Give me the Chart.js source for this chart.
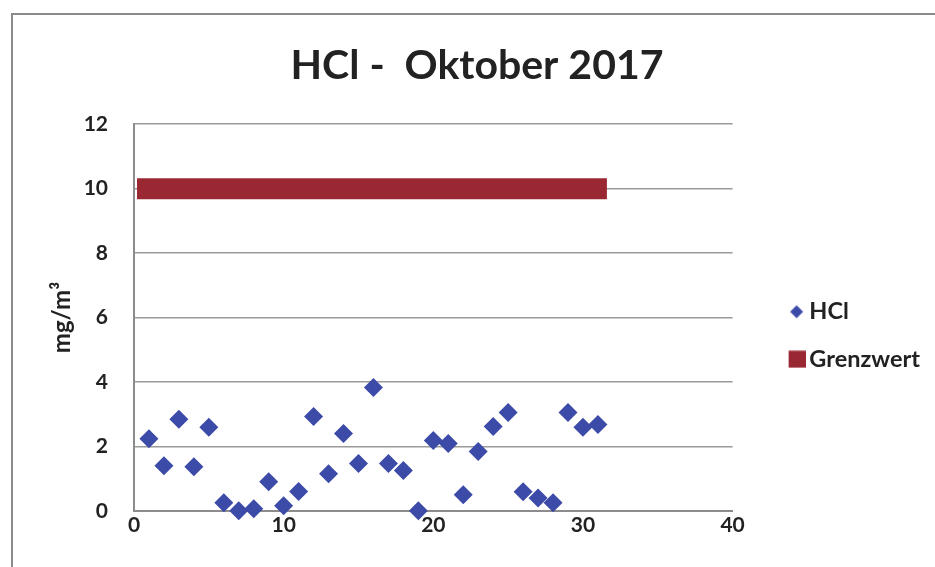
<!DOCTYPE html>
<html>
<head>
<meta charset="utf-8">
<script src="https://cdn.jsdelivr.net/npm/chart.js@4/dist/chart.umd.min.js"></script>
<style>
  html, body { margin: 0; padding: 0; background: #fff; }
  #wrap { width: 935px; height: 567px; }
</style>
</head>
<body>
<div id="wrap"><canvas id="chartHcl" width="935" height="567"></canvas></div>
<script>
var days = [1, 2, 3, 4, 5, 6, 7, 8, 9, 10, 11, 12, 13, 14, 15, 16,
            17, 18, 19, 20, 21, 22, 23, 24, 25, 26, 27, 28, 29, 30, 31];
var hclValues = [2.24, 1.40, 2.84, 1.37, 2.59, 0.25, 0.0, 0.06, 0.9, 0.16, 0.6,
                 2.93, 1.15, 2.4, 1.47, 3.83, 1.47, 1.25, 0.0, 2.18, 2.09, 0.5,
                 1.84, 2.62, 3.05, 0.59, 0.4, 0.25, 3.05, 2.59, 2.68];
var grenzX = [0.2, 31.6];
var grenzY = [10, 10];
var xTicks = [0, 10, 20, 30, 40];
var yTicks = [0, 2, 4, 6, 8, 10, 12];

var blue = '#3c4aa8';
var red = '#992832';
var fontFam = 'Lato, "Open Sans", sans-serif';

var hclPoints = [];
for (var i = 0; i < days.length; i++) {
    hclPoints.push({ x: days[i], y: hclValues[i] });
}
var grenzPoints = [];
for (var j = 0; j < grenzX.length; j++) {
    grenzPoints.push({ x: grenzX[j], y: grenzY[j] });
}

// legend icons: wide transparent canvas, marker sits at its right end
function makeIcon(kind) {
    var c = document.createElement('canvas');
    c.width = 57; c.height = 18;
    var g = c.getContext('2d');
    if (kind === 'diamond') {
        g.fillStyle = blue;
        g.beginPath();
        g.moveTo(48, 2.5); g.lineTo(54.5, 9); g.lineTo(48, 15.5); g.lineTo(41.5, 9);
        g.closePath(); g.fill();
    } else {
        g.fillStyle = red;
        g.fillRect(40, 0.5, 17, 17);
    }
    return c;
}
var icons = [makeIcon('diamond'), makeIcon('square')];

var framePlugin = {
    id: 'frame',
    beforeDraw: function(chart) {
        var c = chart.ctx;
        c.save();
        c.fillStyle = '#fff';
        c.fillRect(0, 0, chart.width, chart.height);
        c.strokeStyle = '#8a8a8a';
        c.lineWidth = 2;
        c.strokeRect(12, 14, 930, 600);
        c.restore();
    }
};

var ctx = document.getElementById('chartHcl').getContext('2d');
var myChart = new Chart(ctx, {
    type: 'scatter',
    data: {
        datasets: [{
            label: 'HCl',
            data: hclPoints,
            pointStyle: 'rectRot',
            pointRadius: 9.5,
            pointHoverRadius: 9.5,
            backgroundColor: blue,
            borderColor: blue,
            borderWidth: 0,
            clip: false
        }, {
            label: 'Grenzwert',
            data: grenzPoints,
            showLine: true,
            pointRadius: 0,
            borderColor: red,
            backgroundColor: red,
            borderWidth: 21,
            borderCapStyle: 'butt',
            clip: false
        }]
    },
    options: {
        responsive: false,
        animation: false,
        layout: {
            padding: { left: 24, right: 5, top: 22, bottom: 27 }
        },
        plugins: {
            title: {
                display: true,
                text: 'HCl -  Oktober 2017',
                color: '#222',
                font: { family: fontFam, size: 41, weight: 'bold' },
                padding: { top: 19, bottom: 34 }
            },
            legend: {
                position: 'right',
                title: {
                    display: true,
                    text: ' ',
                    font: { size: 10 },
                    padding: { top: 0, bottom: 97 }
                },
                labels: {
                    usePointStyle: true,
                    pointStyleWidth: 41,
                    color: '#222',
                    padding: 24,
                    font: { family: fontFam, size: 23.5, weight: 'bold' },
                    generateLabels: function(chart) {
                        var items = Chart.defaults.plugins.legend.labels.generateLabels(chart);
                        items.forEach(function(it, k) {
                            it.lineWidth = 0;
                            it.pointStyle = icons[k];
                        });
                        return items;
                    }
                }
            },
            tooltip: { enabled: false }
        },
        scales: {
            x: {
                type: 'linear',
                min: 0,
                max: 40,
                afterBuildTicks: function(scale) {
                    scale.ticks = xTicks.map(function(v) { return { value: v }; });
                },
                grid: { display: false, drawTicks: false },
                border: { display: true, color: '#8c8c8c', width: 2 },
                ticks: {
                    color: '#222',
                    padding: 2,
                    font: { family: fontFam, size: 21, weight: 'bold' }
                }
            },
            y: {
                min: 0,
                max: 12,
                afterBuildTicks: function(scale) {
                    scale.ticks = yTicks.map(function(v) { return { value: v }; });
                },
                afterFit: function(scale) {
                    scale.width = 110;
                },
                grid: { color: '#9a9a9a', lineWidth: 1.5, drawTicks: false },
                border: { display: true, color: '#8c8c8c', width: 2 },
                ticks: {
                    color: '#222',
                    padding: 26,
                    font: { family: fontFam, size: 21, weight: 'bold' }
                },
                title: {
                    display: true,
                    text: 'mg/m³',
                    color: '#222',
                    padding: { top: 24, bottom: 8 },
                    font: { family: fontFam, size: 24, weight: 'bold' }
                }
            }
        }
    },
    plugins: [framePlugin]
});
</script>
</body>
</html>
